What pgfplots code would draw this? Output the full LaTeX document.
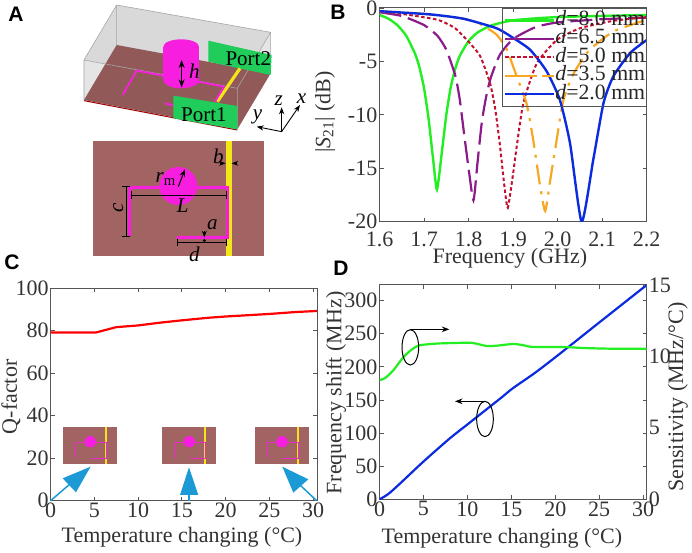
\documentclass[border=0pt]{standalone}
\usepackage{fontspec}
\usepackage{pgfplots}
\pgfplotsset{compat=1.18}
\usetikzlibrary{arrows.meta}
\setmainfont{Liberation Serif}
\newfontfamily\panelfont{Liberation Sans}

\definecolor{axisgray}{HTML}{555555}
\definecolor{textgray}{HTML}{333333}
\definecolor{cgreen}{HTML}{22EE22}
\definecolor{cpurple}{HTML}{8B1A8B}
\definecolor{cred}{HTML}{C4102E}
\definecolor{corange}{HTML}{F7A823}
\definecolor{cblue}{HTML}{0A2BE0}
\definecolor{substrate}{HTML}{A26363}
\definecolor{pink}{HTML}{F81EE0}
\definecolor{stripe}{HTML}{F2E51A}
\definecolor{portgreen}{HTML}{20CC5A}
\definecolor{arrowblue}{HTML}{1B9AD6}

\newcommand{\bigfont}{\fontsize{22}{22}\selectfont}
\newcommand{\annfont}{\fontsize{21}{21}\selectfont}

\pgfplotsset{
	every axis/.append style={
		scale only axis,
		anchor=south west,
		axis line style={color=axisgray, line width=1pt},
		tick style={color=axisgray, line width=0.8pt},
		major tick length=4pt,
		tick align=inside,
		font=\bigfont,
		tick label style={color=textgray, font=\bigfont},
		label style={color=textgray, font=\bigfont, anchor=center},
		xticklabel style={inner sep=1pt, yshift=-1pt},
		yticklabel style={inner sep=1pt, xshift=-1pt},
		/pgf/number format/assume math mode=true,
		/pgf/number format/fixed,
	},
}

% small copy of the top view, inside panel C
\newcommand{\topview}[1]{
	\begin{scope}[xshift=#1pt]
		\fill[substrate] (63.3,124.7) rectangle ++(54,-36.7);
		\fill[stripe] (105.3,124.7) rectangle ++(2,-36.7);
		\draw[pink!85!substrate, line width=0.5pt] (75,93.7) -- (75,110) -- (106.7,110) -- (106.7,93.7) -- (90.7,93.7);
		\fill[pink] (90.3,110.3) circle (5.7);
	\end{scope}
}

\begin{document}
\begin{tikzpicture}[x=1pt, y=1pt]
\useasboundingbox (0,0) rectangle (692,552);

% panel A, 3D view and top view, coordinates in thirds of a pixel from the top
\begin{scope}[x=0.3333pt, y=-0.3333pt, yshift=552pt]
	\fill[black!15] (252,180) -- (350,15) -- (812,97) -- (712,265) -- cycle;
	\fill[black!10] (252,180) -- (712,265) -- (712,388) -- (252,300) -- cycle;
	\fill[black!10] (712,265) -- (812,97) -- (812,220) -- (712,388) -- cycle;
	\fill[substrate!90!black] (252,300) -- (350,135) -- (812,220) -- (712,388) -- cycle;
	\draw[red!60!black, line width=1pt] (252,302) -- (712,390);
	\draw[black!35, line width=0.6pt] (252,180) -- (350,15) -- (812,97) -- (712,265) -- cycle
		(252,180) -- (252,300) (350,15) -- (350,135) (812,97) -- (812,220) (712,265) -- (712,388);
	\fill[portgreen] (625,122) -- (815,165) -- (812,225) -- (625,185) -- cycle;
	\draw[stripe, line width=3.2pt] (720,205) -- (652,305);
	\draw[pink, line width=1.8pt] (368,285) -- (410,212) -- (495,228) (595,245) -- (672,260) -- (645,305) (495,310) -- (520,316);
	\fill[pink] (490,140) rectangle (597,240);
	\fill[pink] (543.5,140) ellipse (53.5 and 22);
	\fill[pink] (543.5,240) ellipse (53.5 and 25);
	\fill[portgreen] (520,287) -- (712,318) -- (712,388) -- (520,355) -- cycle;
	\draw[<->, >=Stealth, line width=1.1pt] (545,180) -- (545,262);
	\node[font=\annfont\itshape] at (583,215) {h};
	\node[font=\annfont] at (745,175) {Port2};
	\node[font=\annfont] at (612,345) {Port1};
	\draw[->, >=Stealth, line width=0.9pt] (845,395) -- (770,380);
	\draw[->, >=Stealth, line width=0.9pt] (845,395) -- (845,322);
	\draw[->, >=Stealth, line width=0.9pt] (845,395) -- (900,315);
	\node[font=\annfont\itshape] at (773,352) {y};
	\node[font=\annfont\itshape] at (836,302) {z};
	\node[font=\annfont\itshape] at (905,295) {x};

	\fill[substrate] (278,423) rectangle (792,767);
	\fill[stripe] (677,423) rectangle (695,767);
	\draw[pink, line width=2.6pt] (388,708) -- (388,562) -- (682,562) -- (682,712) -- (532,712);
	\fill[pink] (535,558) circle (57);
	\draw[line width=0.9pt] (378,560) -- (378,708) (366,560) -- (390,560) (366,708) -- (390,708);
	\draw[line width=0.9pt] (395,585) -- (678,585) (395,574) -- (395,596) (678,574) -- (678,596);
	\draw[line width=0.9pt] (532,727) -- (680,727) (532,716) -- (532,738) (680,716) -- (680,738);
	\draw[->, >=Stealth, line width=0.8pt] (613,693) -- (613,712);
	\fill (613,722) circle (5);
	\draw[->, >=Stealth, line width=0.8pt] (660,490) -- (677,490);
	\draw[->, >=Stealth, line width=0.8pt] (712,490) -- (695,490);
	\draw[->, >=Stealth, line width=1pt] (535,560) -- (555,508);
	\node[font=\annfont] at (497,538) {\textit{r}\textsubscript{m}};
	\node[font=\annfont\itshape] at (548,617) {L};
	\node[font=\annfont\itshape, rotate=90] at (355,625) {c};
	\node[font=\annfont\itshape] at (637,675) {a};
	\node[font=\annfont\itshape] at (583,762) {d};
	\node[font=\annfont\itshape] at (655,470) {b};
\end{scope}

% panel B
\begin{axis}[
	at={(379.5pt,330.3pt)},
	width=267.2pt, height=213.7pt,
	xmin=1.6, xmax=2.2, ymin=-20, ymax=0,
	xtick={1.6,1.7,...,2.2},
	ytick={-20,-15,-10,-5,0},
	xticklabels={1.6,1.7,1.8,1.9,2.0,2.1,2.2},
	xticklabel style={inner sep=1pt, yshift=-8pt},
	xlabel={Frequency (GHz)},
	ylabel={|\textit{S}\textsubscript{21}| (dB)},
	xlabel style={at={(axis description cs:0.488,-0.172)}},
	ylabel style={at={(axis description cs:-0.204,0.513)}},
	legend image code/.code={\path (-12pt,0pt) -- (37pt,0pt); \draw[#1] (0pt,0pt) -- (37pt,0pt);},
	legend cell align=left,
	legend style={
		at={(1,1)}, anchor=north east,
		draw=axisgray, fill=none, line width=1pt,
		font=\fontsize{21.8}{21.8}\selectfont,
		text=black!85,
		inner xsep=1pt, inner ysep=3pt,
		/tikz/every even column/.style={column sep=8pt},
		nodes={inner sep=0pt, text height=14pt, text depth=4.4pt},
	},
]
	\addplot[color=cgreen, line width=2.4pt, smooth, tension=0.35] coordinates {
		(1.60,-0.65)(1.62,-1.0)(1.64,-1.6)(1.66,-2.6)(1.68,-4.3)(1.69,-5.6)(1.70,-7.5)(1.71,-10.3)(1.72,-14)(1.729,-17)
		(1.74,-13.5)(1.75,-10)(1.76,-7.4)(1.77,-5.7)(1.78,-4.5)(1.80,-3.1)(1.82,-2.3)(1.85,-1.65)(1.90,-1.15)(2.0,-0.85)(2.2,-0.65)
	};
	\addlegendentry{\textit{d}=8.0 mm}
	\addplot[color=cpurple, line width=2.2pt, dash pattern=on 22pt off 7pt, smooth, tension=0.35] coordinates {
		(1.60,-0.4)(1.65,-0.75)(1.70,-1.6)(1.73,-2.6)(1.75,-3.9)(1.77,-6.3)(1.78,-8.5)(1.79,-11.8)(1.80,-15)(1.811,-18)
		(1.82,-14.5)(1.83,-10.6)(1.84,-8.2)(1.85,-6.5)(1.87,-4.4)(1.90,-2.9)(1.95,-1.8)(2.0,-1.35)(2.1,-1.05)(2.2,-0.9)
	};
	\addlegendentry{\textit{d}=6.5 mm}
	\addplot[color=cred, line width=2pt, dash pattern=on 3.5pt off 2.5pt, smooth, tension=0.35] coordinates {
		(1.60,-0.35)(1.65,-0.55)(1.73,-1.1)(1.77,-1.9)(1.803,-3.3)(1.826,-4.5)(1.848,-7)(1.86,-9.5)(1.87,-12.7)(1.88,-16.5)(1.888,-18.7)
		(1.90,-15.5)(1.908,-13)(1.923,-8.9)(1.953,-5.2)(1.998,-3)(2.05,-1.9)(2.125,-1.2)(2.2,-0.85)
	};
	\addlegendentry{\textit{d}=5.0 mm}
	\addplot[color=corange, line width=2.2pt, dash pattern=on 20pt off 7pt on 3pt off 7pt, smooth, tension=0.35] coordinates {
		(1.60,-0.3)(1.70,-0.55)(1.788,-1)(1.826,-1.5)(1.863,-2.5)(1.886,-3.9)(1.908,-6.4)(1.93,-8.9)(1.945,-12.3)(1.96,-16.5)(1.972,-19)
		(1.983,-16.2)(1.998,-12.3)(2.013,-8.6)(2.035,-6.2)(2.07,-4)(2.125,-2.2)(2.2,-1.1)
	};
	\addlegendentry{\textit{d}=3.5 mm}
	\addplot[color=cblue, line width=2.4pt, smooth, tension=0.35] coordinates {
		(1.60,-0.3)(1.714,-0.6)(1.788,-1.0)(1.863,-1.9)(1.90,-2.8)(1.938,-3.9)(1.975,-5.9)(2.005,-8.6)(2.028,-12.7)(2.054,-20)
		(2.08,-14.2)(2.103,-8.9)(2.125,-6.4)(2.163,-4.2)(2.2,-3)
	};
	\addlegendentry{\textit{d}=2.0 mm}
\end{axis}

% panel C
\begin{axis}[
	at={(50.7pt,51.3pt)},
	width=266.3pt, height=212.7pt,
	xmin=0, xmax=30.45, ymin=0, ymax=100,
	xtick={0,5,...,30},
	ytick={0,20,...,100},
	xlabel={Temperature changing (°C)},
	ylabel={Q-factor},
	xlabel style={at={(axis description cs:0.493,-0.171)}},
	ylabel style={at={(axis description cs:-0.149,0.488)}},
]
	\addplot[color=red, line width=2.2pt] coordinates {
		(0,79.1)(5.2,79.1)(6.2,80.2)(7.5,81.6)(10,82.4)(12.5,83.7)(15,84.8)(18,86)(20,86.6)(25,87.8)(28,88.7)(30.45,89.2)
	};
\end{axis}
\topview{0}
\topview{99}
\topview{191.7}
% arrows under the small views
\begin{scope}[x=0.3333pt, y=-0.3333pt, yshift=282pt]
	\draw[arrowblue, line width=1.5pt] (152,692) -- (210,642);
	\fill[arrowblue] (272,590) -- (188,625) -- (228,667) -- cycle;
	\draw[arrowblue, line width=1.5pt] (567,692) -- (567,670);
	\fill[arrowblue] (567,592) -- (540,675) -- (595,675) -- cycle;
	\draw[arrowblue, line width=1.5pt] (950,692) -- (900,645);
	\fill[arrowblue] (847,590) -- (880,668) -- (925,628) -- cycle;
\end{scope}

% panel D
\begin{axis}[
	at={(379.5pt,52.7pt)},
	width=267.2pt, height=214.3pt,
	xmin=0, xmax=30.4, ymin=0, ymax=323.6,
	xtick={0,5,...,30},
	ytick={0,50,...,300},
	ytick pos=both,
	yticklabel pos=left,
	xlabel={Temperature changing (°C)},
	ylabel={Frequency shift (MHz)},
	xlabel style={at={(axis description cs:0.458,-0.18)}},
	ylabel style={at={(axis description cs:-0.163,0.496)}},
]
	\addplot[color=cblue, line width=2.2pt, smooth] coordinates {
		(0,0)(1,8)(2.35,24)(5,57)(8,92)(10,113)(12,134)(14,155)(15.2,168)(17.9,193)(21.3,228)(25,267)(30.4,323.6)
	};
\end{axis}
\begin{axis}[
	at={(379.5pt,52.7pt)},
	width=267.2pt, height=214.3pt,
	xmin=0, xmax=30.4, ymin=0, ymax=15,
	axis y line*=right,
	axis x line=none,
	ytick={0,5,10,15},
	major tick length=0pt,
	yticklabel style={inner sep=1pt, xshift=2pt},
	ylabel={Sensitivity (MHz/°C)},
	ylabel style={at={(axis description cs:1.117,0.477)}},
]
	\addplot[color=cgreen, line width=2.2pt, smooth] coordinates {
		(0,8.35)(0.6,8.47)(1.6,9.05)(2.7,9.94)(3.7,10.5)(4.4,10.75)(5,10.82)(6.5,10.9)(8.4,10.94)(10.3,10.96)(11,10.9)
		(12.2,10.73)(13.3,10.75)(15.2,10.87)(16.4,10.78)(17.5,10.66)(20.9,10.66)(23.2,10.59)(26.6,10.54)(30.4,10.54)
	};
\end{axis}
% ellipses and arrows of panel D
\begin{scope}[x=0.3333pt, y=-0.3333pt, xshift=330pt, yshift=282pt]
	\draw[line width=1pt] (241,232) ellipse (25 and 53);
	\draw[->, >=Stealth, line width=1pt] (241,178) -- (358,178);
	\draw[line width=1pt] (465,447) ellipse (25 and 53);
	\draw[->, >=Stealth, line width=1pt] (465,394) -- (375,394);
\end{scope}

% panel letters
\node[font=\panelfont\bfseries\fontsize{21}{21}\selectfont] at (16,538) {A};
\node[font=\panelfont\bfseries\fontsize{21}{21}\selectfont] at (338,540) {B};
\node[font=\panelfont\bfseries\fontsize{21}{21}\selectfont] at (12,290) {C};
\node[font=\panelfont\bfseries\fontsize{21}{21}\selectfont] at (341,284) {D};
\end{tikzpicture}
\end{document}
